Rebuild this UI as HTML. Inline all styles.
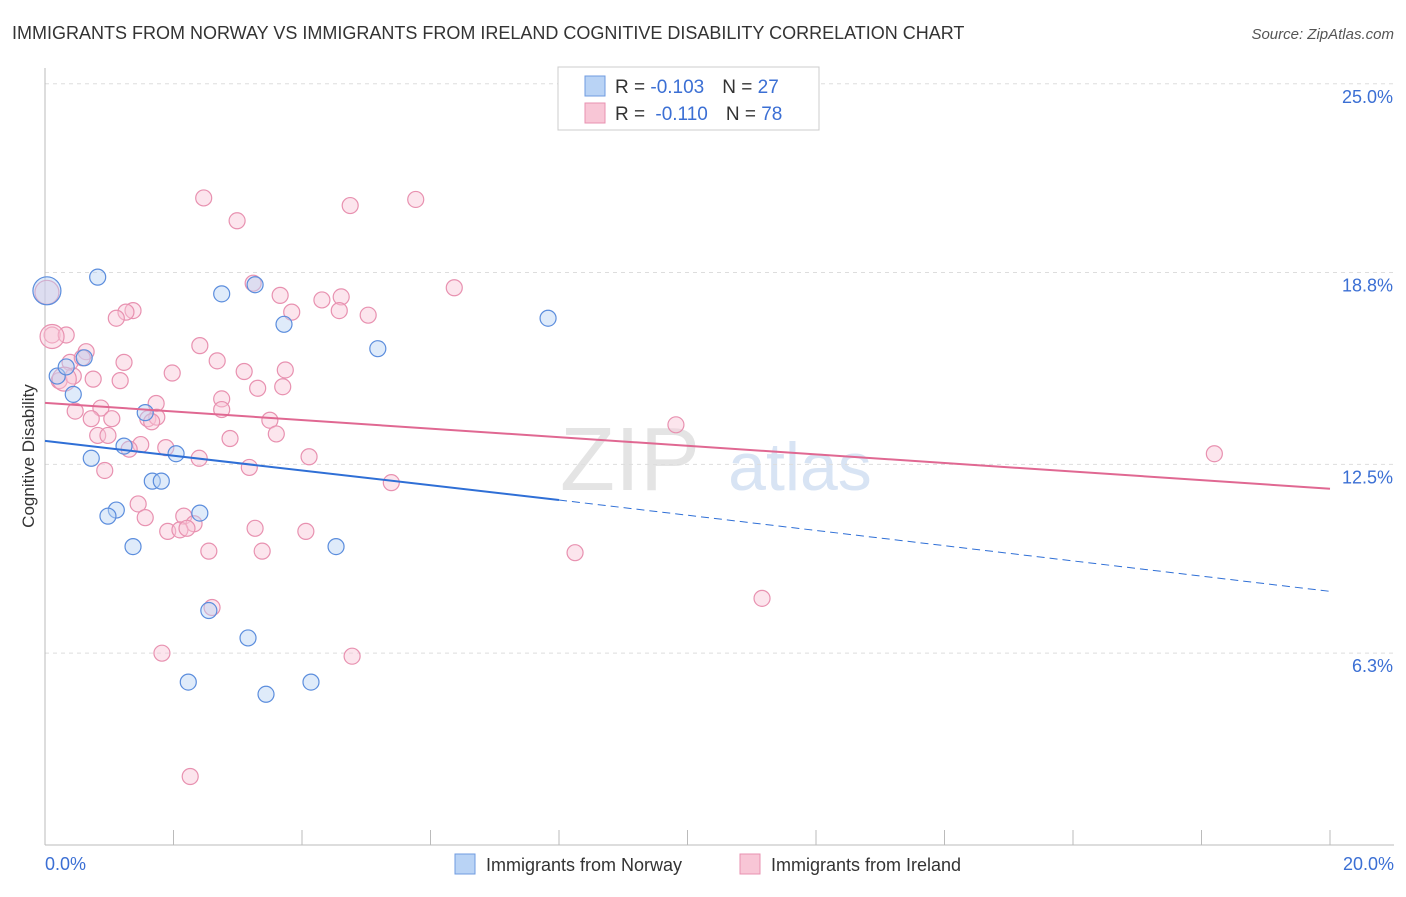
<!DOCTYPE html>
<html><head><meta charset="utf-8"><style>
body{margin:0;background:#fff;font-family:"Liberation Sans",sans-serif;}
svg text{font-family:"Liberation Sans",sans-serif;}
</style></head><body>
<svg id="chart" width="1406" height="892">
<text x="12" y="39" font-size="18" fill="#333">IMMIGRANTS FROM NORWAY VS IMMIGRANTS FROM IRELAND COGNITIVE DISABILITY CORRELATION CHART</text>
<text x="1394" y="39" font-size="15" fill="#555" text-anchor="end" font-style="italic">Source: ZipAtlas.com</text>
<text x="630" y="490" font-size="90" fill="#e4e4e4" font-family="Liberation Serif" text-anchor="middle">ZIP</text>
<text x="800" y="490" font-size="68" fill="#d8e4f4" text-anchor="middle">atlas</text>
<g id="grid"></g><g id="axes"></g><g id="pts"></g><g id="lines"></g>
<text x="34" y="456" font-size="17" fill="#333" text-anchor="middle" transform="rotate(-90 34 456)">Cognitive Disability</text>
<text x="45" y="870" font-size="18" fill="#3b6fd4">0.0%</text>
<text x="1394" y="870" font-size="18" fill="#3b6fd4" text-anchor="end">20.0%</text>
<g>
<rect x="558" y="67" width="261" height="63" fill="#fff" stroke="#ccc"/>
<rect x="585" y="76" width="20" height="20" fill="#b9d3f5" stroke="#6f9be0"/>
<rect x="585" y="103" width="20" height="20" fill="#f8c6d6" stroke="#e891b0"/>
<text x="615" y="93" font-size="19" fill="#333">R = <tspan fill="#3b6fd4">-0.103</tspan><tspan dx="18">N = </tspan><tspan fill="#3b6fd4">27</tspan></text>
<text x="615" y="120" font-size="19" fill="#333">R = <tspan fill="#3b6fd4" dx="5">-0.110</tspan><tspan dx="18">N = </tspan><tspan fill="#3b6fd4">78</tspan></text>
</g>
<g>
<rect x="455" y="854" width="20" height="20" fill="#b9d3f5" stroke="#6f9be0"/>
<text x="486" y="871" font-size="18" fill="#333">Immigrants from Norway</text>
<rect x="740" y="854" width="20" height="20" fill="#f8c6d6" stroke="#e891b0"/>
<text x="771" y="871" font-size="18" fill="#333">Immigrants from Ireland</text>
</g>
</svg>
<script>
const yTicks=[25,18.8,12.5,6.3];
const yTickLabels=["25.0%","18.8%","12.5%","6.3%"];
const norwayX=[0.82,2.75,3.27,3.72,7.83,5.18,0.19,0.33,0.61,0.44,1.56,1.23,2.04,0.72,1.67,1.81,1.11,0.98,2.41,1.37,4.53,2.55,3.16,2.23,4.14,3.44];
const norwayY=[18.65,18.1,18.4,17.1,17.3,16.3,15.4,15.7,16.0,14.8,14.2,13.1,12.85,12.7,11.95,11.95,11.0,10.8,10.9,9.8,9.8,7.7,6.8,5.35,5.35,4.95];
const irelandX=[2.47,2.99,4.75,5.77,6.37,3.24,3.66,4.31,4.61,3.84,4.58,5.03,1.37,1.26,1.11,0.11,0.33,2.41,0.64,2.68,1.23,0.39,0.58,1.98,3.10,3.74,0.22,0.44,0.75,1.17,3.31,3.70,2.75,1.73,0.47,0.87,2.75,1.60,1.74,0.72,1.04,3.50,1.66,9.82,0.82,0.98,2.88,3.60,1.49,1.31,1.88,2.40,4.11,18.2,0.93,3.18,5.39,1.45,1.56,2.16,2.32,1.91,2.10,2.21,3.27,4.06,2.55,3.38,8.25,2.60,11.16,1.82,4.78,2.26];
const irelandY=[21.25,20.5,21.0,21.2,18.3,18.45,18.05,17.9,18.0,17.5,17.55,17.4,17.55,17.5,17.3,16.75,16.75,16.4,16.2,15.9,15.85,15.85,16.0,15.5,15.55,15.6,15.25,15.4,15.3,15.25,15.0,15.05,14.65,14.5,14.25,14.35,14.3,14.0,14.05,14.0,14.0,13.95,13.9,13.8,13.45,13.45,13.35,13.5,13.15,13.0,13.05,12.7,12.75,12.85,12.3,12.4,11.9,11.2,10.75,10.8,10.55,10.3,10.35,10.4,10.4,10.3,9.65,9.65,9.6,7.8,8.1,6.3,6.2,2.25];
const norwayBig=[0.03,18.2];
const irelandBig=[0.03,18.15,0.11,16.7,0.3,15.3];
const norwayTrend=[13.27,11.33,8.33];   // values at x=0, x=8, x=20
const irelandTrend=[14.52,11.7];        // x=0, x=20
const NS="http://www.w3.org/2000/svg";
const X=v=>45+v*64.25, Y=v=>845-v*30.45;
function mk(tag,attrs,parent){const e=document.createElementNS(NS,tag);for(const k in attrs)e.setAttribute(k,attrs[k]);document.getElementById(parent).appendChild(e);return e;}
yTicks.forEach((t,i)=>{
 const l=mk('line',{x1:45,x2:1394,y1:Y(t),y2:Y(t),stroke:'#ddd','stroke-dasharray':'4 4'},'grid');
 
 
 const tx=mk('text',{x:1393,y:Y(t)+19,'font-size':18,fill:'#3b6fd4','text-anchor':'end'},'grid');
 tx.textContent=yTickLabels[i];
 
 
});
const ya=mk('line',{x1:45,x2:45,y1:68,y2:845,stroke:'#bbb'},'axes');


const xa=mk('line',{x1:45,x2:1394,y1:845,y2:845,stroke:'#bbb'},'axes');


for(let i=0;i<=10;i++){const t=mk('line',{x1:X(i*2),x2:X(i*2),y1:830,y2:845,stroke:'#bbb'},'axes');
 
 }
function dot(x,y,r,f,s,name){const c=mk('circle',{cx:X(x),cy:Y(y),r:r,fill:f,'fill-opacity':0.45,stroke:s,'stroke-width':1.2},'pts');
 
 }
irelandX.forEach((x,i)=>dot(x,irelandY[i],8,'#f8c6d6','#e891b0','ireland-point'));
for(let i=0;i<irelandBig.length;i+=2)dot(irelandBig[i],irelandBig[i+1],12,'#f8c6d6','#e891b0','ireland-point');
norwayX.forEach((x,i)=>dot(x,norwayY[i],8,'#b9d3f5','#5b8ddd','norway-point'));
dot(norwayBig[0],norwayBig[1],14,'#b9d3f5','#5b8ddd','norway-point');
const l1=mk('line',{x1:X(0),y1:Y(norwayTrend[0]),x2:X(8),y2:Y(norwayTrend[1]),stroke:'#2f6fd6','stroke-width':2},'lines');


const l2=mk('line',{x1:X(8),y1:Y(norwayTrend[1]),x2:X(20),y2:Y(norwayTrend[2]),stroke:'#2f6fd6','stroke-width':1,'stroke-dasharray':'8 5'},'lines');


const l3=mk('line',{x1:X(0),y1:Y(irelandTrend[0]),x2:X(20),y2:Y(irelandTrend[1]),stroke:'#e06892','stroke-width':2},'lines');


</script>
</body></html>
